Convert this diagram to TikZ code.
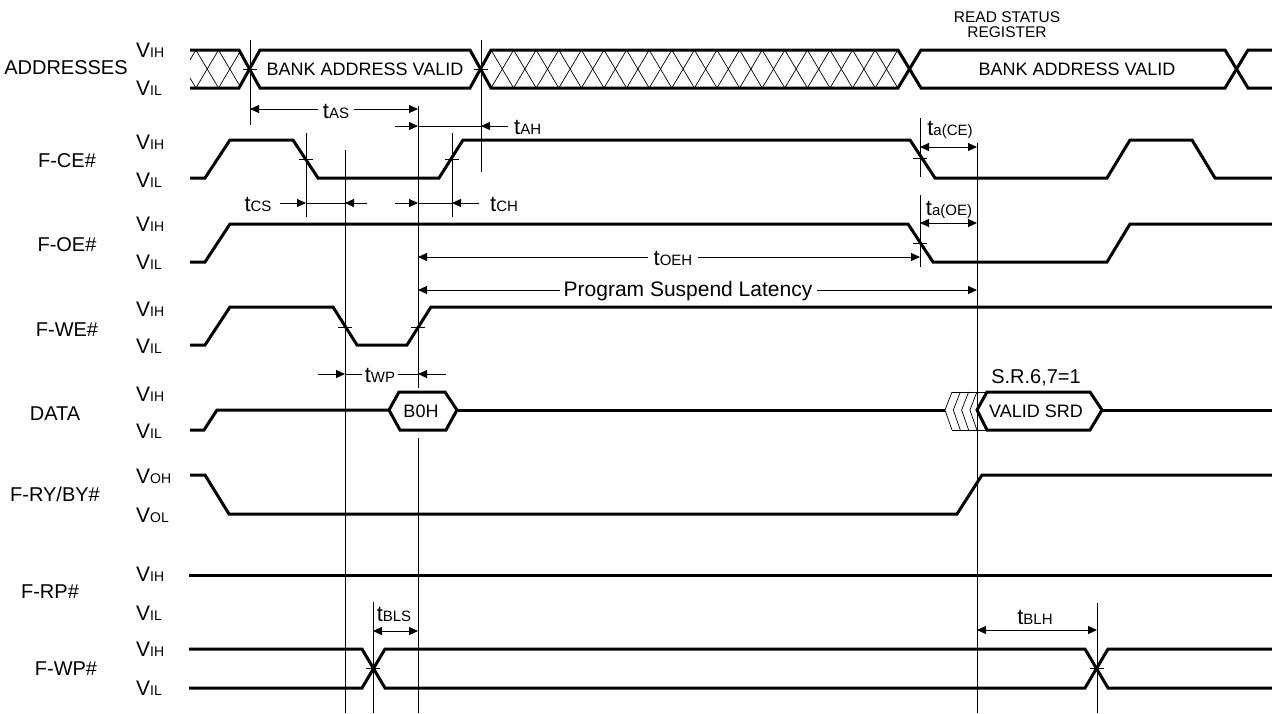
\documentclass[tikz,border=0pt]{standalone}
\usepackage{fontspec}
\setmainfont{Liberation Sans}
\usetikzlibrary{arrows.meta}
\newcommand\Vlev[1]{{\fontsize{21}{24}\selectfont V}{\fontsize{14}{16}\selectfont #1}}
\newcommand\Tdim[1]{{\fontsize{22}{26}\selectfont t}{\fontsize{15}{18}\selectfont #1}}
\tikzset{
  sig/.style={line width=3pt},
  refl/.style={line width=0.9pt},
  dimline/.style={line width=0.9pt},
  hatchline/.style={line width=0.7pt},
  tip/.style={dimline,-{Triangle[length=9pt,width=8pt]}},
  tips/.style={dimline,{Triangle[length=9pt,width=8pt]}-{Triangle[length=9pt,width=8pt]}},
  signame/.style={font=\fontsize{20}{24}\selectfont, inner sep=0pt},
  lev/.style={anchor=west, inner sep=0pt},
  boxtxt/.style={font=\fontsize{18}{22}\selectfont, inner sep=0pt},
  dimtxt/.style={inner sep=0pt},
  tickmark/.style={line width=0.8pt}
}
\begin{document}
\begin{tikzpicture}[x=1pt,y=-1pt]
\useasboundingbox (0,0) rectangle (1272,713);

% ---------- signal names ----------
\node[signame] (nAddr) at (66,68) {ADDRESSES};
\node[signame] (nCE) at (67,161) {F-CE\#};
\node[signame] (nOE) at (67,245) {F-OE\#};
\node[signame] (nWE) at (67,330) {F-WE\#};
\node[signame] (nData) at (55,414) {DATA};
\node[signame] (nRY) at (55,494) {F-RY/BY\#};
\node[signame] (nRP) at (50,592) {F-RP\#};
\node[signame] (nWP) at (66,669) {F-WP\#};

% ---------- level labels ----------
\foreach \y/\t [count=\i] in {50/IH,88/IL,142/IH,180/IL,224/IH,262/IL,309/IH,346/IL,394/IH,431/IL,476/OH,515/OL,574/IH,613/IL,649/IH,688/IL}
  \node[lev] (lv\i) at (136,\y) {\Vlev{\t}};

% ---------- ADDRESSES ----------
\begin{scope}
  \clip (190,50) -- (239,50) -- (250,69) -- (239,88) -- (190,88) -- cycle;
  \foreach \k in {0,...,4} {
    \pgfmathsetmacro\xa{173.3+22.6*\k}
    \draw[hatchline] (\xa,50) -- (\xa+22.6,88);
    \draw[hatchline] (\xa,88) -- (\xa+22.6,50);
  }
\end{scope}
\begin{scope}
  \clip (481,69) -- (491,50) -- (898,50) -- (910,69) -- (898,88) -- (491,88) -- cycle;
  \foreach \k in {-1,...,18} {
    \pgfmathsetmacro\xa{491+22.6*\k}
    \draw[hatchline] (\xa,50) -- (\xa+22.6,88);
    \draw[hatchline] (\xa,88) -- (\xa+22.6,50);
  }
\end{scope}
\draw[sig] (190,50) -- (239,50) -- (260,88) -- (470,88) -- (491,50) -- (898,50) -- (921,88) -- (1225,88) -- (1248,50) -- (1272,50);
\draw[sig] (190,88) -- (239,88) -- (260,50) -- (470,50) -- (491,88) -- (898,88) -- (921,50) -- (1225,50) -- (1248,88) -- (1272,88);
\node[boxtxt] (bav1) at (365,69) {BANK ADDRESS VALID};
\node[boxtxt] (bav2) at (1077,69) {BANK ADDRESS VALID};
\node[font=\fontsize{15.5}{15}\selectfont, align=center, inner sep=0pt] (rsr) at (1007,25) {READ STATUS\\REGISTER};

% ---------- F-CE# ----------
\draw[sig] (190,178) -- (205,178) -- (230,140) -- (293,140) -- (318,178) -- (439,178) -- (463,140) -- (910,140) -- (935,178) -- (1107,178) -- (1130,140) -- (1192,140) -- (1215,178) -- (1272,178);
% ---------- F-OE# ----------
\draw[sig] (190,262) -- (205,262) -- (230,224) -- (908,224) -- (933,262) -- (1107,262) -- (1130,224) -- (1272,224);
% ---------- F-WE# ----------
\draw[sig] (190,345) -- (205,345) -- (230,307) -- (333,307) -- (357,345) -- (407,345) -- (431,307) -- (1272,307);
% ---------- DATA ----------
\draw[sig] (190,430) -- (204,430) -- (217,410) -- (389,410);
\draw[sig] (389,410) -- (399,392) -- (445,392) -- (457,410) -- (446,430) -- (400,430) -- cycle;
\node[boxtxt] (b0h) at (421,411) {B0H};
\draw[sig] (457,410) -- (945,410);
\foreach \k in {0,...,3} {
  \pgfmathsetmacro\xa{945+8.3*\k}
  \draw[hatchline] (\xa+7,392) -- (\xa,410) -- (\xa+7,430);
}
\draw[hatchline] (952,392) -- (987,392);
\draw[hatchline] (952,430) -- (987,430);
\draw[sig] (977,410) -- (987,392) -- (1090,392) -- (1102,410) -- (1090,430) -- (987,430) -- cycle;
\draw[sig] (1102,410) -- (1272,410);
\node[boxtxt] (vsrd) at (1036,411) {VALID SRD};
\node[signame] (sr) at (1036,378) {S.R.6,7=1};
% ---------- F-RY/BY# ----------
\draw[sig] (190,475) -- (205,475) -- (229,514) -- (957,514) -- (982,475) -- (1272,475);
% ---------- F-RP# ----------
\draw[sig] (189,575) -- (1272,575);
% ---------- F-WP# ----------
\draw[sig] (189,649) -- (362,649) -- (385,688) -- (1085,688) -- (1108,649) -- (1272,649);
\draw[sig] (189,688) -- (362,688) -- (385,649) -- (1085,649) -- (1108,688) -- (1272,688);

% ---------- reference lines ----------
\draw[refl] (250,40) -- (250,125);
\draw[refl] (481,40) -- (481,172);
\draw[refl] (418,106) -- (418,388);
\draw[refl] (418,438) -- (418,713);
\draw[refl] (345,150) -- (345,713);
\draw[refl] (306,133) -- (306,217);
\draw[refl] (452,133) -- (452,217);
\draw[refl] (920,118) -- (920,177);
\draw[refl] (920,195) -- (920,267);
\draw[refl] (977,143) -- (977,713);
\draw[refl] (373,602) -- (373,713);
\draw[refl] (1097,603) -- (1097,713);

% ---------- tick marks ----------
\foreach \x/\y in {250/69,481/69,306/159,452/159,920/158,920/243,345/327,418/327,373/668,1097/668}
  \draw[tickmark] (\x-7,\y) -- (\x+7,\y);

% ---------- dimensions ----------
% tAS
\node[dimtxt] (tas) at (336,111) {\Tdim{AS}};
\draw[tip] (318,109) -- (250,109);
\draw[tip] (354,109) -- (418,109);
% tAH
\draw[tip] (395,126) -- (418,126);
\draw[dimline] (418,126) -- (481,126);
\draw[tip] (508,126) -- (481,126);
\node[dimtxt, anchor=west] (tah) at (514,127) {\Tdim{AH}};
% tCS
\node[dimtxt] (tcs) at (258,204) {\Tdim{CS}};
\draw[tip] (280,203) -- (306,203);
\draw[dimline] (306,203) -- (345,203);
\draw[tip] (367,203) -- (345,203);
% tCH
\draw[tip] (395,203) -- (418,203);
\draw[dimline] (418,203) -- (452,203);
\draw[tip] (479,203) -- (452,203);
\node[dimtxt, anchor=west] (tch) at (490,204) {\Tdim{CH}};
% ta(CE)
\draw[tips] (920,147) -- (977,147);
\node[dimtxt] (tace) at (950,130) {\Tdim{a(CE)}};
% ta(OE)
\draw[tips] (920,223) -- (977,223);
\node[dimtxt] (taoe) at (949,210) {\Tdim{a(OE)}};
% tOEH
\node[dimtxt] (toeh) at (673,258) {\Tdim{OEH}};
\draw[tip] (648,257) -- (418,257);
\draw[tip] (698,257) -- (920,257);
% Program Suspend Latency
\node[dimtxt, font=\fontsize{21}{24}\selectfont] (psl) at (688,291) {Program Suspend Latency};
\draw[tip] (560,290) -- (418,290);
\draw[tip] (817,290) -- (977,290);
% tWP
\draw[tip] (318,374) -- (345,374);
\draw[dimline] (345,374) -- (362,374);
\node[dimtxt] (twp) at (380,375) {\Tdim{WP}};
\draw[dimline] (398,374) -- (418,374);
\draw[tip] (446,374) -- (418,374);
% tBLS
\draw[tips] (373,631) -- (418,631);
\node[dimtxt] (tbls) at (394,614) {\Tdim{BLS}};
% tBLH
\draw[tips] (977,630) -- (1097,630);
\node[dimtxt] (tblh) at (1035,617) {\Tdim{BLH}};
\end{tikzpicture}
\end{document}
